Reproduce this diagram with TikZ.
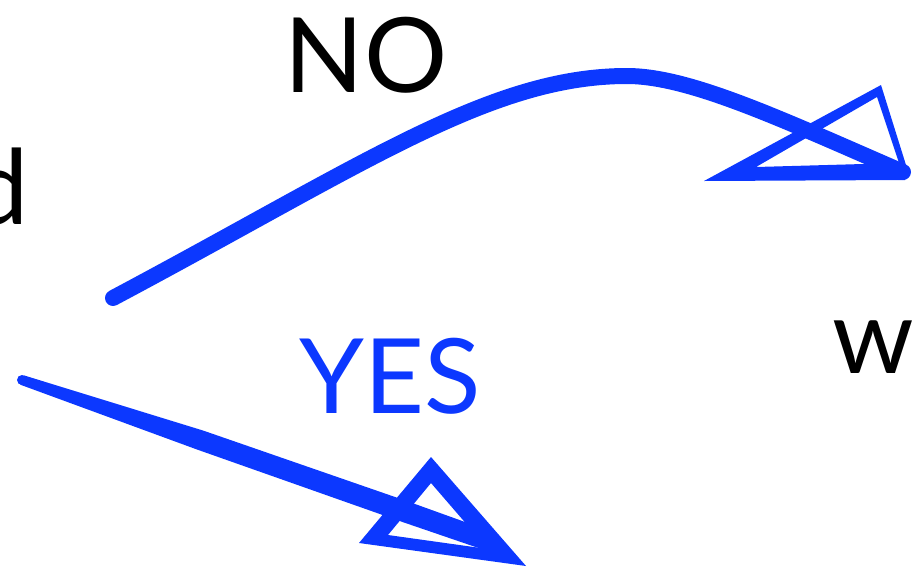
\documentclass[tikz,border=0pt]{standalone}
\usepackage{fontspec}
\setmainfont{Lato}
\definecolor{penblue}{RGB}{12,56,255}
\begin{document}
\begin{tikzpicture}[x=1pt,y=-1pt,
  pen/.style={draw=penblue,line cap=round,line join=round},
  head/.style={fill=penblue,even odd rule},
  big/.style={font=\fontsize{104}{104}\selectfont,inner sep=0pt}]
\useasboundingbox (0,0) rectangle (916,579);
\clip (0,0) rectangle (916,579);
% texts
\node[big,anchor=base] (no) at (366,92) {NO};
\node[big,anchor=base,text=penblue] (yes) at (390,413) {YES};
\node[big,anchor=base east] (dd) at (29,224) {d};
\node[big,anchor=base west] (ww) at (832,373) {w};
% upper arrow
\coordinate (a1) at (113,298);
\coordinate (a2) at (627,76);
\coordinate (a3) at (903,172);
\draw[pen,line width=16] (a1) .. controls (363,165) and (490,76) .. (a2)
  .. controls (690,76) and (783,120) .. (a3);
\path[head] (704,181) -- (881,85) -- (906,165) -- (905,180) -- cycle
  (756,167) -- (877,97) -- (899,163) -- cycle;
% lower arrow
\coordinate (b1) at (22,380);
\fill[penblue] (b1) circle (5);
\fill[penblue] (23.7,375.3) -- (203.3,430.6) -- (409.5,502) -- (490,531)
  -- (518,560) -- (476.7,547.4) -- (402.5,522) -- (196.7,449.4) -- (20.3,384.7) -- cycle;
\path[head] (431,457) -- (359,543) -- (526,566) -- cycle
  (431,483) -- (388,535) -- (488,549) -- cycle;
\end{tikzpicture}
\end{document}
